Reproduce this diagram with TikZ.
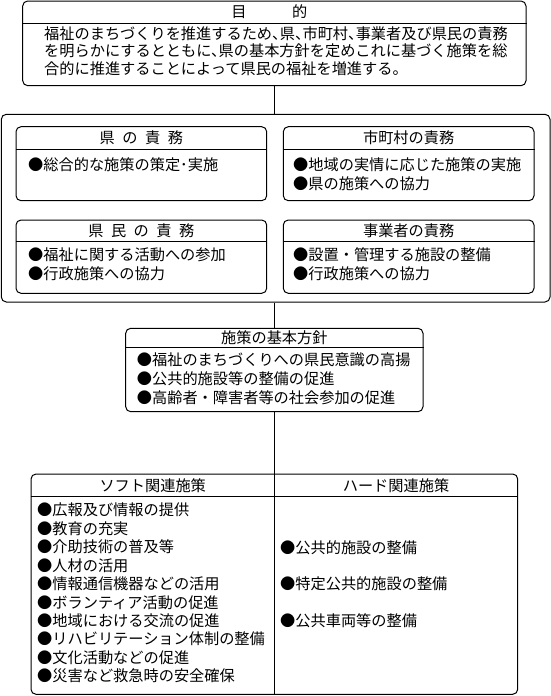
\documentclass[tikz,border=0pt]{standalone}
\usepackage{fontspec}
\setmainfont{Noto Sans CJK JP}
\newfontfamily\jphalt[RawFeature=+halt]{Noto Sans CJK JP}
\usetikzlibrary{positioning}
\newcommand\jpsize{\fontsize{15.2}{18}\selectfont}
\newcommand\headfont{\jpsize\spaceskip=7.5pt\relax}

\begin{document}
\begin{tikzpicture}[
        x=1pt, y=-1pt,
        box/.style={draw, line width=1pt, rounded corners=5pt, inner sep=0pt},
        head/.style={inner sep=0pt, font=\headfont},
        item/.style={anchor=west, inner sep=0pt, text height=13.4pt, text depth=1.8pt, font=\jpsize},
        rule/.style={line width=1pt}
    ]
        \useasboundingbox (0,0) rectangle (551,696);

        % 目的
        \node[box, minimum width=503.3pt, minimum height=84.7pt] (purp) at (274.35,43.35) {};
        \node[head, minimum height=22.3pt, below=0pt of purp.north, xshift=-5pt] (purp-h) {目　　　的};
        \draw[rule] (purp.west |- purp-h.south) -- (purp.east |- purp-h.south);
        \foreach \t [count=\i] in {福祉のまちづくりを推進するため、県、市町村、事業者及び県民の責務,
                                   を明らかにするとともに、県の基本方針を定めこれに基づく施策を総,
                                   合的に推進することによって県民の福祉を増進する。}
            \node[item, font=\jpsize\jphalt] (purp-\i) at (44,15.8+17.5*\i) {\t};

        % 責務
        \node[box, minimum width=548.7pt, minimum height=187.7pt] (duties) at (275.65,208.15) {};

        \node[box, minimum width=250.7pt, minimum height=74pt] (pref) at (141.35,163.7) {};
        \node[head, minimum height=22.6pt, below=0pt of pref.north] (pref-h) {県 の 責 務};
        \draw[rule] (pref.west |- pref-h.south) -- (pref.east |- pref-h.south);
        \node[item] (pref-1) at (28,165) {●総合的な施策の策定･実施};

        \node[box, minimum width=250.7pt, minimum height=74pt] (city) at (408.65,163.7) {};
        \node[head, minimum height=22.6pt, below=0pt of city.north] (city-h) {市町村の責務};
        \draw[rule] (city.west |- city-h.south) -- (city.east |- city-h.south);
        \node[item] (city-1) at (293,165) {●地域の実情に応じた施策の実施};
        \node[item] (city-2) at (293,184) {●県の施策への協力};

        \node[box, minimum width=250.7pt, minimum height=73.3pt] (resid) at (141.35,256.65) {};
        \node[head, minimum height=22pt, below=0pt of resid.north] (resid-h) {県 民 の 責 務};
        \draw[rule] (resid.west |- resid-h.south) -- (resid.east |- resid-h.south);
        \node[item] (resid-1) at (28,255) {●福祉に関する活動への参加};
        \node[item] (resid-2) at (28,274) {●行政施策への協力};

        \node[box, minimum width=250.7pt, minimum height=73.3pt] (biz) at (408.65,256.65) {};
        \node[head, minimum height=22pt, below=0pt of biz.north] (biz-h) {事業者の責務};
        \draw[rule] (biz.west |- biz-h.south) -- (biz.east |- biz-h.south);
        \node[item] (biz-1) at (293,255) {●設置・管理する施設の整備};
        \node[item] (biz-2) at (293,274) {●行政施策への協力};

        % 基本方針
        \node[box, minimum width=297.3pt, minimum height=83.4pt] (policy) at (274.35,370) {};
        \node[head, minimum height=19pt, below=0pt of policy.north] (policy-h) {施策の基本方針};
        \draw[rule] (policy.west |- policy-h.south) -- (policy.east |- policy-h.south);
        \foreach \t [count=\i] in {福祉のまちづくりへの県民意識の高揚,
                                   公共的施設等の整備の促進,
                                   高齢者・障害者等の社会参加の促進}
            \node[item] (policy-\i) at (136.7,341.1+18.9*\i) {●\t};

        % 関連施策
        \node[box, minimum width=486.7pt, minimum height=220.3pt] (measures) at (274.35,584.15) {};
        \node[head, minimum height=22.7pt] (soft-h) at (152.7,485.35) {ソフト関連施策};
        \node[head, minimum height=22.7pt] (hard-h) at (396,485.35) {ハード関連施策};
        \draw[rule] (measures.west |- soft-h.south) -- (measures.east |- soft-h.south);
        \draw[rule] (measures.north) -- (measures.south);
        \foreach \t [count=\i] in {広報及び情報の提供, 教育の充実, 介助技術の普及等, 人材の活用,
                                   情報通信機器などの活用, ボランティア活動の促進, 地域における交流の促進,
                                   リハビリテーション体制の整備, 文化活動などの促進, 災害など救急時の安全確保}
            \node[item] (soft-\i) at (37,491.56+18.44*\i) {●\t};
        \node[item] (hard-1) at (280,547.3) {●公共的施設の整備};
        \node[item] (hard-2) at (280,584) {●特定公共的施設の整備};
        \node[item] (hard-3) at (280,620.7) {●公共車両等の整備};

        % つなぐ線
        \draw[rule] (purp.south) -- (purp.south |- duties.north);
        \draw[rule] (policy.north |- duties.south) -- (policy.north);
        \draw[rule] (policy.south) -- (measures.north);
    \end{tikzpicture}
\end{document}
